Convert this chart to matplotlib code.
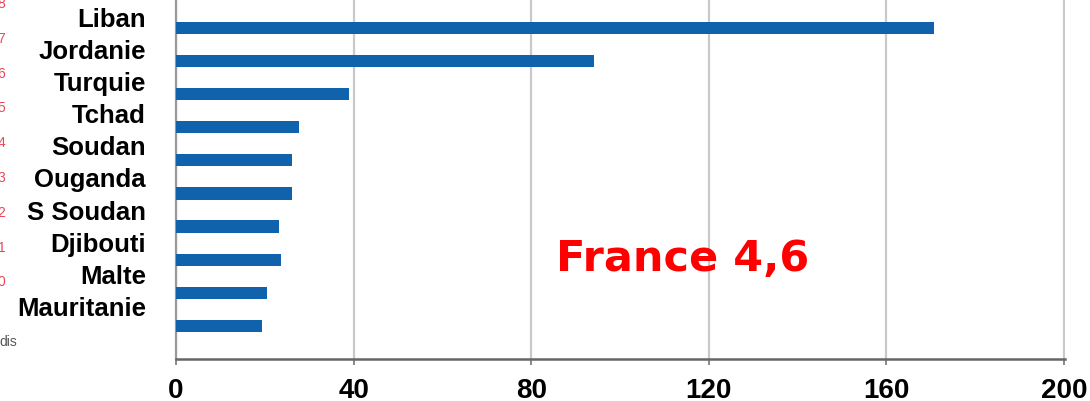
import matplotlib
matplotlib.use('Agg')
import matplotlib.pyplot as plt

# pays et valeurs (du haut vers le bas)
pays = ['Liban', 'Jordanie', 'Turquie', 'Tchad', 'Soudan', 'Ouganda',
        'S Soudan', 'Djibouti', 'Malte', 'Mauritanie']
valeurs = [170.6, 94.2, 38.9, 27.7, 26.2, 26.2, 23.2, 23.6, 20.6, 19.4]
graduations = [0, 40, 80, 120, 160, 200]
reperes = ['8', '7', '6', '5', '4', '3', '2', '1', '0']
annotation = 'France 4,6'

plt.rcParams['font.family'] = ['Liberation Sans', 'DejaVu Sans']

fig = plt.figure(figsize=(10.9, 4.02), dpi=100)
ax = fig.add_axes([176 / 1090, 42 / 402, 889 / 1090, 360 / 402])

n = len(pays)
pos = list(range(n - 1, -1, -1))
ax.barh(pos, valeurs, height=0.37, color='#0f62ab', zorder=3)

ax.set_xlim(0, 200.2)
ax.set_ylim(-1, n - 1 + 0.87)
ax.set_xticks(graduations)
ax.set_xticklabels([str(g) for g in graduations], fontsize=20,
                   fontweight='bold')
ax.set_yticks([])
ax.grid(axis='x', color='#c9c9c9', linewidth=1.6, zorder=0)
ax.tick_params(axis='x', length=4, width=1.2, color='#777777', pad=9)

for side in ['top', 'right']:
    ax.spines[side].set_visible(False)
ax.spines['left'].set_color('#9a9a9a')
ax.spines['left'].set_linewidth(1.6)
ax.spines['bottom'].set_color('#666666')
ax.spines['bottom'].set_linewidth(1.8)

# noms des pays, alignés à droite
for i, nom in enumerate(pays):
    fig.text(146 / 1090, 1 - (20 + i * 32.1) / 402, nom, ha='right',
             va='center', fontsize=18.5, fontweight='bold', color='black')

# numéros rouges au bord gauche
for i, r in enumerate(reperes):
    fig.text(1.5 / 1090, 1 - (4 + i * 34.8) / 402, r, ha='center',
             va='center', fontsize=10, color='#e8485a')

fig.text(-1 / 1090, 1 - 342 / 402, 'dis', ha='left', va='center',
         fontsize=10, color='#555555')

fig.text(683 / 1090, 1 - 259 / 402, annotation, ha='center', va='center',
         fontsize=31, fontweight='bold', color='#ff0000',
         family='DejaVu Sans')

fig.savefig('out.png', dpi=100)
